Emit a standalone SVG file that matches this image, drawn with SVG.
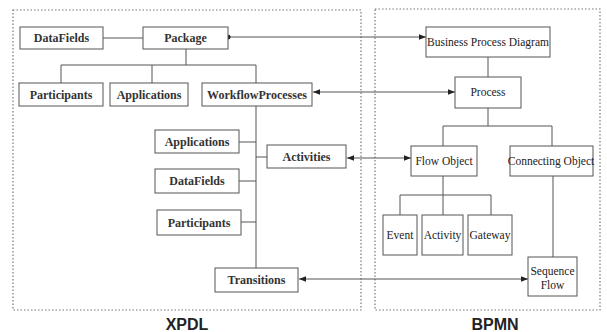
<svg xmlns="http://www.w3.org/2000/svg" width="607" height="332" viewBox="0 0 607 332">
<style>
.bg{fill:#fff}
.frame{fill:none;stroke:#777;stroke-width:1.2;stroke-dasharray:1.5 2}
.box{fill:#fff;stroke:#555;stroke-width:1}
.ln{fill:none;stroke:#555;stroke-width:1}
.x{font-family:"Liberation Serif",serif;font-size:12px;font-weight:bold;fill:#333;text-anchor:middle}
.b{font-family:"Liberation Serif",serif;font-size:11.5px;fill:#222;text-anchor:middle}
.t{font-family:"Liberation Sans",Arial,sans-serif;font-size:16px;font-weight:bold;fill:#222;text-anchor:middle}
</style>
<defs>
<marker id="ah" viewBox="0 0 10 10" refX="10" refY="5" markerWidth="7" markerHeight="7" markerUnits="userSpaceOnUse" orient="auto-start-reverse"><path d="M0,1 L10,5 L0,9 z" fill="#222"/></marker>
<marker id="dot" viewBox="0 0 10 10" refX="5" refY="5" markerWidth="5" markerHeight="5" markerUnits="userSpaceOnUse"><circle cx="5" cy="5" r="5" fill="#222"/></marker>
</defs>
<rect class="bg" x="0" y="0" width="607" height="332"/>
<rect class="frame" x="13" y="10" width="348" height="300"/>
<rect class="frame" x="375" y="9" width="225" height="301"/>
<text class="t" x="187" y="330">XPDL</text>
<text class="t" x="495" y="330">BPMN</text>
<g id="connectors">
<path class="ln" d="M103,38 H143"/>
<path class="ln" d="M186,49 V65 M61,65 H256 M61,65 V83 M152,65 V83 M256,65 V83"/>
<path class="ln" d="M256,106 V268 M239,142 H256 M239,181 H256 M241,222 H256 M256,157 H267"/>
<path class="ln" d="M488,57 V77 M488,108 V126 M443,126 H552 M443,126 V146 M552,126 V146"/>
<path class="ln" d="M443,176 V195 M400,195 H491 M400,195 V215 M443,195 V215 M491,195 V215"/>
<path class="ln" d="M553,176 V257"/>
<path class="ln" d="M228,37 H426" marker-start="url(#dot)" marker-end="url(#ah)"/>
<path class="ln" d="M313,92 H455" marker-start="url(#ah)" marker-end="url(#ah)"/>
<path class="ln" d="M347,158 H411" marker-start="url(#ah)" marker-end="url(#ah)"/>
<path class="ln" d="M299,279 H528" marker-start="url(#ah)" marker-end="url(#ah)"/>
</g>
<g id="datafields1"><rect class="box" x="20" y="27" width="83" height="22"/><text class="x" x="61.5" y="42">DataFields</text></g>
<g id="package"><rect class="box" x="143" y="27" width="85" height="22"/><text class="x" x="185.5" y="42">Package</text></g>
<g id="participants1"><rect class="box" x="19" y="83" width="84" height="23"/><text class="x" x="61" y="99">Participants</text></g>
<g id="applications1"><rect class="box" x="110" y="83" width="78" height="23"/><text class="x" x="149" y="99">Applications</text></g>
<g id="workflowprocesses"><rect class="box" x="202" y="83" width="110" height="23"/><text class="x" x="257" y="99">WorkflowProcesses</text></g>
<g id="applications2"><rect class="box" x="155" y="130" width="84" height="23"/><text class="x" x="197" y="146">Applications</text></g>
<g id="activities"><rect class="box" x="267" y="145" width="79" height="23"/><text class="x" x="306.5" y="161">Activities</text></g>
<g id="datafields2"><rect class="box" x="155" y="169" width="84" height="24"/><text class="x" x="197" y="185">DataFields</text></g>
<g id="participants2"><rect class="box" x="157" y="210" width="84" height="25"/><text class="x" x="199" y="227">Participants</text></g>
<g id="transitions"><rect class="box" x="215" y="268" width="83" height="24"/><text class="x" x="256.5" y="284">Transitions</text></g>
<g id="bpd"><rect class="box" x="426" y="27" width="124" height="30"/><text class="b" x="488" y="46">Business Process Diagram</text></g>
<g id="process"><rect class="box" x="455" y="77" width="66" height="31"/><text class="b" x="488" y="96">Process</text></g>
<g id="flowobject"><rect class="box" x="411" y="146" width="66" height="30"/><text class="b" x="444" y="165">Flow Object</text></g>
<g id="connectingobject"><rect class="box" x="510" y="146" width="83" height="30"/><text class="b" x="551" y="165" font-size="11px">Connecting Object</text></g>
<g id="event"><rect class="box" x="383" y="215" width="34" height="40"/><text class="b" x="400" y="239" font-size="11px">Event</text></g>
<g id="activity"><rect class="box" x="422" y="215" width="41" height="40"/><text class="b" x="442.5" y="239" font-size="11px">Activity</text></g>
<g id="gateway"><rect class="box" x="468" y="215" width="44" height="40"/><text class="b" x="490" y="239" font-size="11px">Gateway</text></g>
<g id="sequenceflow"><rect class="box" x="528" y="257" width="49" height="39"/><text class="b" x="552.5" y="275">Sequence</text><text class="b" x="552.5" y="289">Flow</text></g>
</svg>
